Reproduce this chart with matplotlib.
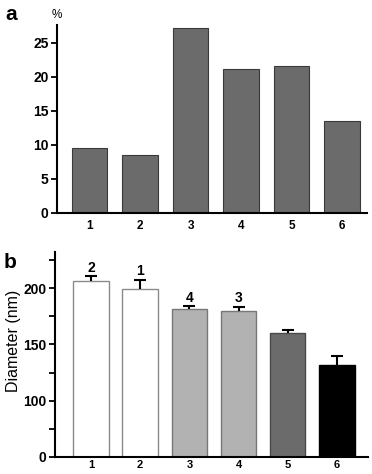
import matplotlib
matplotlib.use("Agg")
import matplotlib.pyplot as plt
from matplotlib.ticker import FixedLocator, FixedFormatter

plt.rcParams['font.family'] = ['Liberation Sans', 'DejaVu Sans']

# Panel a data
cats = [1, 2, 3, 4, 5, 6]
pct = [9.5, 8.5, 27.2, 21.1, 21.6, 13.5]
a_yticks = [0, 5, 10, 15, 20, 25]

# Panel b data
diam = [206.2, 199.1, 181.5, 179.5, 160.1, 131.8]
diam_err = [4.2, 8.3, 2.4, 4.1, 2.9, 8.1]
b_colors = ['white', 'white', '#b2b2b2', '#b2b2b2', '#6b6b6b', '#000000']
b_edges = ['#8a8a8a', '#8a8a8a', '#777777', '#777777', '#4a4a4a', '#000000']
b_annot = ['2', '1', '4', '3', '', '']
b_major = [50, 100, 150, 200]
b_major_labels = ['0', '100', '150', '200']
b_minor = [75, 125, 175, 225]

fig = plt.figure(figsize=(3.72, 4.74), dpi=100)

# ---- Panel a ----
ax1 = fig.add_axes([0.153, 0.551, 0.834, 0.396])
ax1.bar(cats, pct, width=0.70, color='#6b6b6b', edgecolor='#3a3a3a', linewidth=0.8)
ax1.set_xlim(0.35, 6.5)
ax1.set_ylim(0, 27.6)
ax1.set_yticks(a_yticks)
ax1.set_xticks(cats)
for s in ['top', 'right']:
    ax1.spines[s].set_visible(False)
for s in ['left', 'bottom']:
    ax1.spines[s].set_linewidth(1.5)
ax1.tick_params(axis='y', direction='out', length=4, width=1.3, labelsize=10, pad=2)
ax1.tick_params(axis='x', length=0, labelsize=8.5, pad=5)
for lab in ax1.get_yticklabels() + ax1.get_xticklabels():
    lab.set_fontweight('bold')
fig.text(0.154, 0.969, '%', fontsize=8.5, ha='center', va='center')
fig.text(0.014, 0.970, 'a', fontsize=15, fontweight='bold', ha='left', va='center')

# ---- Panel b ----
ax2 = fig.add_axes([0.148, 0.036, 0.841, 0.432])
ax2.bar(cats, [d - 50 for d in diam], bottom=50, width=0.72,
        color=b_colors, edgecolor=b_edges, linewidth=1.0, zorder=2)
eb = ax2.errorbar(cats, diam, yerr=[[0] * 6, diam_err], fmt='none', ecolor='black',
                  elinewidth=1.5, capsize=4.3, capthick=1.5, zorder=3)
# hide the lower caps (only upper error bars are shown)
eb[1][0].set_visible(False)
for x, d, e, t in zip(cats, diam, diam_err, b_annot):
    if t:
        ax2.text(x, d + e + 1.5, t, ha='center', va='bottom', fontsize=10, fontweight='bold')
ax2.set_xlim(0.27, 6.63)
ax2.set_ylim(50, 232)
ax2.yaxis.set_major_locator(FixedLocator(b_major))
ax2.yaxis.set_major_formatter(FixedFormatter(b_major_labels))
ax2.yaxis.set_minor_locator(FixedLocator(b_minor))
ax2.set_xticks(cats)
for s in ['top', 'right']:
    ax2.spines[s].set_visible(False)
for s in ['left', 'bottom']:
    ax2.spines[s].set_linewidth(1.5)
ax2.tick_params(axis='y', which='major', direction='out', length=4, width=1.3, labelsize=10, pad=2)
ax2.tick_params(axis='y', which='minor', direction='out', length=4, width=1.3)
ax2.tick_params(axis='x', length=0, labelsize=8, pad=2.5)
for lab in ax2.get_yticklabels() + ax2.get_xticklabels():
    lab.set_fontweight('bold')
ax2.set_ylabel('Diameter (nm)', fontsize=11.5)
ax2.yaxis.set_label_coords(-0.11, 0.566)
fig.text(0.010, 0.447, 'b', fontsize=15, fontweight='bold', ha='left', va='center')

fig.savefig('out.png', dpi=100)
